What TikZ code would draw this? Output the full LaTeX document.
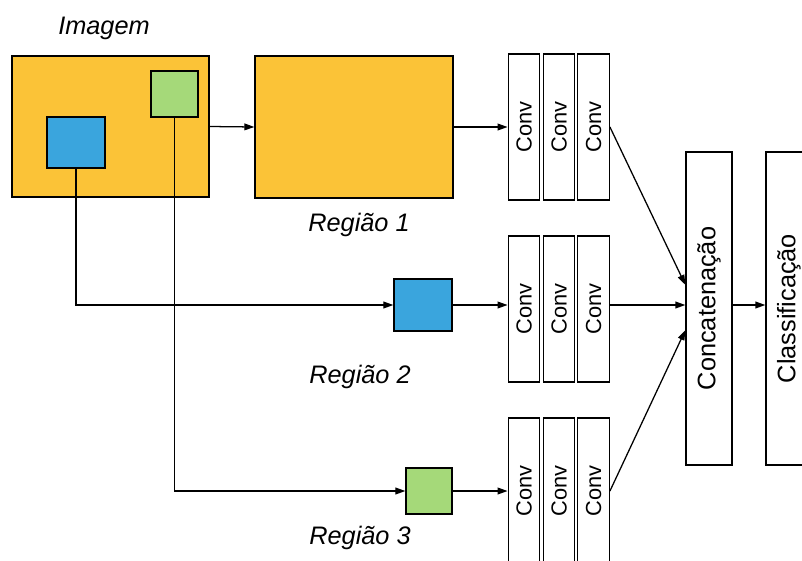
\documentclass[tikz,border=0pt]{standalone}
\usepackage{fontspec}
\setmainfont{Liberation Sans}
\usetikzlibrary{arrows.meta}

\definecolor{imgorange}{RGB}{251,195,55}
\definecolor{regblue}{RGB}{58,165,221}
\definecolor{reggreen}{RGB}{165,217,121}

\begin{document}
\begin{tikzpicture}[x=0.025cm,y=-0.025cm,
  box/.style={draw,line width=0.9pt,inner sep=0pt},
  convbox/.style={box,minimum width=0.79cm,minimum height=3.65cm,
    font=\fontsize{15.5}{18}\selectfont},
  bigbox/.style={box,minimum width=1.15cm,minimum height=7.825cm,
    font=\fontsize{18}{21}\selectfont},
  tag/.style={font=\fontsize{18}{21}\selectfont\itshape},
  conn/.style={-{Triangle[length=0.25cm,width=0.17cm]},line width=0.9pt}]
\clip (0,0) rectangle (802,560);

% image and regions
\node[box,fill=imgorange,minimum width=4.925cm,minimum height=3.525cm] (img) at (110.5,126.5) {};
\node[box,fill=reggreen,minimum width=1.175cm,minimum height=1.15cm] (gin) at (174.5,94) {};
\node[box,fill=regblue,minimum width=1.45cm,minimum height=1.275cm] (bin) at (76,142.5) {};
\node[tag] (imglab) at (104,28) {Imagem};

\node[box,fill=imgorange,minimum width=4.95cm,minimum height=3.55cm] (r1) at (354,127) {};
\node[box,fill=regblue,minimum width=1.45cm,minimum height=1.3cm] (r2) at (423,305) {};
\node[box,fill=reggreen,minimum width=1.15cm,minimum height=1.15cm] (r3) at (429,491) {};
\node[tag] (r1lab) at (359,225) {Região 1};
\node[tag] (r2lab) at (360,377) {Região 2};
\node[tag] (r3lab) at (360,538) {Região 3};

% conv stacks
\foreach \row/\y in {1/127,2/309,3/491}{
  \node[convbox] (c\row1) at (524,\y) {\rotatebox{90}{Conv}};
  \node[convbox] (c\row2) at (559,\y) {\rotatebox{90}{Conv}};
  \node[convbox] (c\row3) at (593.5,\y) {\rotatebox{90}{Conv}};
}

\node[bigbox] (cat) at (709,308.5) {\rotatebox{90}{Concatenação}};
\node[bigbox] (cls) at (789,308.5) {\rotatebox{90}{Classificação}};

% connectors
\draw[conn] (img.east) -- (r1.west);
\draw[conn] (bin.south) |- (r2.west);
\draw[conn] (gin.south) |- (r3.west);
\draw[conn] (r1.east) -- (c11.west);
\draw[conn] (r2.east) -- (c21.west |- r2.east);
\draw[conn] (r3.east) -- (c31.west);
\draw[conn] (c13.east) -- ([yshift=0.59cm]cat.west);
\draw[conn] (c23.east |- r2.east) -- (cat.west |- r2.east);
\draw[conn] (c33.east) -- ([yshift=-0.54cm]cat.west);
\draw[conn] (cat.east |- r2.east) -- (cls.west |- r2.east);

\end{tikzpicture}
\end{document}
